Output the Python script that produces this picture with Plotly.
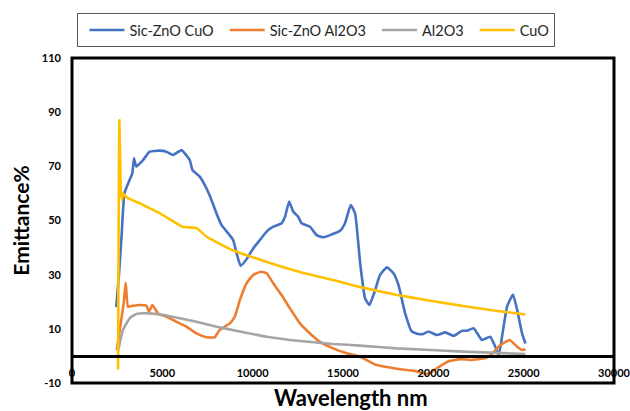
import plotly.graph_objects as go

# ---- data ----
blue_x = [2450, 2600, 2750, 2900, 3190, 3340, 3430, 3560, 3930, 4300, 4850, 5220, 5590, 6060, 6240,
          6520, 6670, 7070, 7440, 7720, 8000, 8280, 8640, 8920, 9110, 9330, 9660, 10030, 10400, 10770,
          11140, 11600, 11790, 12020, 12250, 12510, 12710, 13170, 13540, 13910, 14280, 14840, 15110,
          15430, 15670, 15950, 16220, 16460, 16780, 17050, 17430, 17790, 18070, 18440, 18810, 19180,
          19440, 19730, 20200, 20660, 21120, 21590, 21860, 22230, 22690, 23150, 23430, 23620, 23800,
          24080, 24410, 24640, 24910, 25100]
blue_y = [18, 30, 45, 60, 65, 67.4, 73, 69.9, 72.3, 75.4, 75.8, 75.4, 74.2, 76, 74.8,
          72.3, 68.6, 66.2, 61.9, 57.6, 52.6, 48.3, 45.3, 42.8, 37.9, 33.3, 35.7, 39.7, 42.8, 45.9,
          47.7, 49, 51.4, 57, 53.2, 51.5, 49, 47.7, 44.6, 43.8, 44.6, 46.2, 49,
          55.7, 52.6, 34.2, 21.3, 18.8, 24.3, 29.9, 32.7, 30.5, 26.2, 15.7, 9, 8.1,
          8.1, 9, 7.7, 8.7, 7.4, 9.3, 9.3, 10.2, 5.9, 7.1, 3.4, 0.3, 7,
          18.2, 22.7, 17, 8.3, 4.6]

orange_x = [2480, 2670, 2860, 2970, 3100, 3360, 3740, 4120, 4260, 4450, 4760, 5220, 5780, 6330,
            6890, 7440, 7900, 8180, 8740, 9010, 9290, 9660, 10030, 10450, 10770, 11140, 11600, 12060,
            12620, 13170, 13730, 14460, 15210, 15950, 16830, 18050, 18940, 19470, 19770, 20270,
            20880, 21490, 22050, 22900, 23210, 23710, 24230, 24640, 24910, 25100]
orange_y = [2.2, 10.8, 19.4, 27, 18.2, 18.5, 18.8, 18.5, 16.3, 18.8, 15.7, 14.5, 12.6, 10.8,
            8.3, 6.9, 6.9, 9.6, 12, 14.5, 20.6, 26.8, 29.9, 31.1, 30.5, 26.8, 22.5, 17.6,
            12, 8.3, 5.2, 2.8, 0.95, -0.3, -3.3, -4.8, -5.5, -6.5, -6.5, -4.2,
            -1.9, -1.2, -1.5, -0.8, 0.5, 4, 5.9, 3.4, 2.2, 2.5]

grey_x = [2540, 2820, 3190, 3560, 4300, 5040, 5960, 6890, 8000, 9290, 10770, 12620, 14460, 15950,
          17980, 21670, 25100]
grey_y = [1.5, 9.6, 13.9, 15.5, 15.7, 15.1, 13.9, 12.6, 10.8, 9, 7.1, 5.5, 4.4, 3.8,
          2.8, 1.6, 0.7]

yellow_x = [2550, 2620, 2700, 2760, 2830, 2980, 3300, 3740, 4120, 4850, 6130, 6900, 7460, 8900,
            10790, 12620, 14450, 15950, 18000, 19830, 21660, 23540, 25100]
yellow_y = [-5, 87, 62, 57.5, 60, 58.8, 57.6, 56.4, 55.1, 52.7, 47.7, 47.2, 44, 39,
            34.7, 31, 28, 25.4, 22.5, 20.4, 18.4, 16.6, 15.3]

names = ["Sic-ZnO CuO", "Sic-ZnO Al2O3", "Al2O3", "CuO"]
colors = ["#4472C4", "#ED7D31", "#A5A5A5", "#FFC000"]
x_ticks = [0, 5000, 10000, 15000, 20000, 25000, 30000]
y_ticks = [-10, 10, 30, 50, 70, 90, 110]

FONT = "Lato"

fig = go.Figure()
for xs, ys, n, c in zip([blue_x, orange_x, grey_x, yellow_x],
                        [blue_y, orange_y, grey_y, yellow_y], names, colors):
    fig.add_trace(go.Scatter(x=xs, y=ys, name=n, mode="lines",
                             line=dict(color=c, width=2.6, shape="spline", smoothing=0.4)))

fig.update_layout(
    width=630, height=411,
    margin=dict(l=72, r=16, t=58, b=28),
    paper_bgcolor="white", plot_bgcolor="white",
    font=dict(family=FONT, color="black"),
    showlegend=True,
    legend=dict(orientation="h", x=0.01, y=1.138, xanchor="left", yanchor="top",
                bordercolor="#595959", borderwidth=1, bgcolor="white",
                itemwidth=35, indentation=6,
                font=dict(family=FONT, size=14.5, color="#262626")),
    xaxis=dict(range=[0, 30000], tickvals=x_ticks, ticktext=[str(v) for v in x_ticks],
               showgrid=False, zeroline=False, showline=True, linewidth=3, linecolor="black",
               anchor="free", position=10 / 120, ticks="", ticklabelstandoff=6,
               ticklabeloverflow="allow",
               tickfont=dict(family=FONT, size=11, color="black", weight="bold"),
               automargin=False),
    yaxis=dict(range=[-10, 110], tickvals=y_ticks, ticktext=[str(v) for v in y_ticks],
               showgrid=False, zeroline=False, showline=False, ticks="",
               ticklabelstandoff=10,
               tickfont=dict(family=FONT, size=11, color="black", weight="bold"),
               title=dict(text="Emittance%", standoff=6,
                          font=dict(family=FONT, size=21, color="black", weight="bold")),
               automargin=False),
)

fig.add_shape(type="rect", xref="x domain", yref="y domain", x0=0, x1=1, y0=0, y1=1,
              line=dict(color="black", width=3), layer="above")

fig.add_annotation(text="Wavelength nm", xref="paper", yref="paper", x=(351 - 72) / 542, y=0.0,
                   yshift=-14, yanchor="middle", xanchor="center", showarrow=False,
                   font=dict(family=FONT, size=22, color="black", weight="bold"))

fig.write_html("out.html")
